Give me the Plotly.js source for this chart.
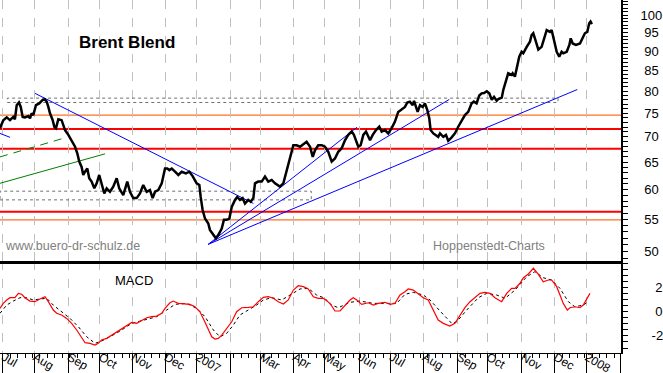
<!DOCTYPE html>
<html><head><meta charset="utf-8">
<script src="https://cdn.plot.ly/plotly-3.0.1.min.js"></script>
<style>html,body{margin:0;padding:0;background:#fff;} #chart{width:663px;height:373px;}</style>
</head><body><div id="chart"></div>
<script>
// x axis unit: trading day index counted from Mon 3 Jul 2006 (weekends excluded)
const monthStartDay = [0,21,44,65,87,109,130,153,173,195,216,239,260,282,305,325,348,370,391,414];
const monthLabels = ['Jul','Aug','Sep','Oct','Nov','Dec','2007','','Mar','Apr','May','Jun','Jul','Aug','Sep','Oct','Nov','Dec','2008',''];

const priceDay = [-1.8,0.4,2.7,4.9,7.1,8.2,9.4,10.9,12.1,13.4,14.9,17.2,18.3,19.4,20.5,22.3,24.5,26.8,28.3,29.5,30.6,31.7,33.5,34.6,35.7,37.3,39.5,40.6,41.8,44.0,46.2,48.5,50.0,51.3,52.9,54.0,55.2,56.7,58.0,59.6,61.4,63.0,64.7,66.3,68.1,69.7,71.9,74.1,76.4,78.1,80.8,83.5,85.3,87.5,89.8,92.0,94.2,96.5,98.7,100.5,102.1,104.3,106.6,108.8,110.3,111.7,113.3,115.5,117.7,120.0,122.8,125.1,127.3,130.0,131.8,132.7,134.0,135.6,137.8,138.9,141.2,142.9,144.5,146.8,148.3,150.1,151.9,153.5,155.7,157.2,159.0,160.8,162.4,164.6,166.2,168.0,169.1,171.3,173.6,175.8,178.0,180.3,182.5,185.8,188.1,190.3,192.5,194.8,197.0,199.3,201.5,203.7,206.0,207.8,209.3,211.5,213.8,216.0,218.2,219.4,220.5,222.7,224.9,227.2,229.4,231.6,233.9,235.4,236.8,238.3,239.9,241.7,243.5,245.0,246.2,248.0,250.2,252.4,254.0,256.2,258.4,260.7,262.9,265.1,267.4,269.6,271.2,272.9,274.8,275.7,277.0,278.1,279.7,281.5,283.0,284.6,285.9,286.8,288.6,290.4,291.9,293.1,295.3,297.1,298.6,300.9,303.1,305.3,307.6,309.8,312.0,314.3,315.8,317.6,319.4,321.0,322.6,324.4,326.1,327.8,329.3,331.1,332.2,334.5,335.5,337.3,338.8,341.1,341.8,343.3,344.9,346.2,347.8,348.9,351.2,353.4,354.5,355.6,356.7,359.0,361.2,363.4,364.6,366.8,367.9,369.5,371.3,373.0,374.6,375.7,378.0,379.8,380.7,382.0,384.2,386.9,388.7,390.2,391.8,393.1,394.0,394.9];
const priceValue = [71.8,73.5,74.1,73.5,74.2,73.7,76.8,77.4,76.4,74.2,74.1,74.4,73.9,75.0,74.6,76.8,77.2,78.0,78.1,77.6,76.4,75.0,73.5,72.1,71.8,73.7,73.5,72.5,71.4,70.4,69.3,68.0,66.7,65.1,64.1,62.6,63.2,63.8,62.0,61.4,60.2,61.1,62.6,61.1,59.3,60.2,59.6,60.5,62.0,60.2,59.0,61.4,59.6,58.5,58.5,59.3,60.8,59.6,59.9,58.5,59.6,59.9,61.1,63.8,63.8,63.5,63.8,63.2,62.6,63.2,62.9,63.2,62.4,61.1,60.8,58.7,56.5,55.1,54.3,53.3,52.5,52.0,52.5,53.5,54.9,54.9,55.1,57.0,58.2,58.7,58.2,58.5,57.6,58.2,57.9,58.5,61.1,61.4,61.4,62.3,61.4,61.7,61.1,60.5,61.1,63.5,66.0,68.3,68.3,68.0,68.5,69.0,68.0,66.0,67.3,68.3,68.3,68.0,67.0,66.0,65.1,65.7,67.0,67.7,69.3,70.4,71.1,70.4,69.0,68.0,68.3,70.4,71.1,70.0,69.3,70.4,71.4,72.1,71.1,71.4,70.7,71.8,73.2,75.3,75.9,76.4,77.4,77.6,76.8,77.8,76.4,75.3,76.8,76.4,77.2,75.7,73.9,71.4,70.7,70.4,70.0,70.7,70.0,70.4,69.2,69.9,70.7,72.1,73.5,74.6,75.3,77.2,77.6,77.2,79.0,79.5,79.6,80.0,79.5,78.0,78.7,77.8,78.2,78.5,80.3,82.7,84.3,83.9,84.3,83.5,86.0,88.5,89.8,89.4,91.1,92.5,94.3,94.8,93.4,90.4,91.1,94.3,95.7,95.2,95.7,92.9,89.8,88.5,89.8,89.4,89.8,91.6,93.4,92.0,91.6,92.0,93.8,94.8,95.2,97.6,98.1,97.4];

const macdDay = [-1.8,0.4,2.7,4.9,8.2,10.5,12.7,14.9,18.3,21.6,25.0,28.4,30.6,33.9,36.2,39.5,42.9,46.2,49.6,52.9,55.2,58.5,61.9,64.1,66.3,69.7,73.1,76.4,79.8,83.1,86.5,89.8,93.2,96.5,99.9,103.2,106.6,108.8,112.1,114.3,117.7,121.0,125.5,128.9,132.2,134.9,137.8,140.1,142.3,144.5,146.8,150.1,153.5,156.8,160.2,164.6,168.0,171.3,174.7,178.0,181.4,184.7,188.1,191.4,194.8,198.1,201.5,204.8,208.2,211.5,214.9,219.4,222.7,226.1,229.4,232.8,235.0,237.3,240.6,245.0,248.4,251.7,256.2,259.6,262.9,266.3,269.6,271.8,275.2,278.5,281.9,285.2,288.6,291.9,295.3,299.7,303.1,306.4,309.8,313.2,316.5,319.9,323.2,326.6,329.9,332.2,334.4,337.8,341.1,343.4,346.7,349.0,352.3,355.7,359.0,362.3,365.7,367.9,371.3,373.5,375.7,378.4,380.2,383.5,386.9,389.1,391.4,393.6];
const macdValue = [0.28,0.69,0.97,1.16,1.16,1.52,1.44,1.16,0.88,0.83,1.05,1.24,0.83,0.14,-0.13,-0.27,-0.55,-0.96,-1.51,-2.20,-2.56,-2.61,-2.75,-2.61,-2.34,-2.20,-1.93,-1.65,-1.37,-1.10,-0.88,-0.96,-0.69,-0.50,-0.41,-0.36,-0.13,0.28,0.74,0.88,0.69,0.64,0.61,0.41,0.00,-0.69,-1.51,-2.07,-2.26,-2.20,-1.93,-1.37,-0.83,0.00,0.33,0.36,0.41,0.83,1.19,1.24,1.11,0.83,0.64,0.97,1.79,2.15,2.07,1.88,1.24,1.11,1.11,0.69,0.06,0.06,0.55,0.97,1.16,0.97,0.61,0.74,0.55,0.69,0.78,0.61,0.69,1.38,1.65,1.88,1.79,1.44,1.16,0.97,0.14,-0.69,-0.96,-1.18,-0.96,-0.27,0.33,0.83,1.16,1.52,1.60,1.52,1.16,1.02,0.83,1.52,1.93,1.93,2.35,2.81,3.12,3.59,3.09,2.48,2.62,2.62,2.07,1.38,0.69,0.14,0.33,0.41,0.33,0.55,1.11,1.52];

const signalDay = [-1.8,2.7,7.1,11.6,16.1,20.5,25.0,29.5,33.9,39.5,45.1,50.7,56.3,61.9,66.3,71.9,78.6,86.5,94.2,103.2,109.9,115.5,123.3,130.0,135.6,141.2,145.6,150.1,154.6,159.0,164.6,170.2,174.7,180.3,187.0,192.5,199.3,204.8,210.4,216.0,219.4,224.9,232.8,239.5,248.4,257.4,264.1,269.6,275.2,281.9,286.4,293.1,300.9,304.3,311.0,318.8,324.4,331.1,336.7,343.4,351.2,356.7,362.3,367.9,373.5,379.1,383.5,389.1,392.4];
const signalValue = [-0.13,0.55,0.88,1.16,1.16,0.97,1.05,1.11,0.55,0.00,-0.55,-1.24,-2.07,-2.61,-2.42,-2.07,-1.60,-0.96,-0.69,-0.41,0.14,0.61,0.69,0.28,-0.41,-1.51,-2.07,-1.79,-1.10,-0.27,0.14,0.55,0.97,1.16,0.97,1.38,1.88,1.93,1.38,1.11,0.61,0.33,0.78,0.88,0.69,0.69,0.69,1.44,1.60,1.38,0.97,0.06,-0.96,-0.83,0.14,1.16,1.52,1.38,1.11,1.79,2.89,3.31,2.81,2.62,1.93,0.83,0.41,0.55,0.83];

// trend lines (start, end)
const blueLineDay = [[21.7,168.0],[137.8,237.5],[137.8,299.3],[137.8,385.1],[-1.8,4.9]];
const blueLineValue = [[79.5,57.6],[51.1,72.0],[51.1,78.1],[51.1,80.4],[70.7,69.9]];
const greenLineDay = [[-1.8,42.9],[-1.8,68.6]];
const greenLineValue = [[66.0,69.9],[61.1,66.6]];

// horizontal levels
const levelValue = [74.6, 71.6, 67.6, 56.2, 54.9];
// consolidation boxes
const boxStartDay = [3.1, -1.8];
const boxEndDay = [372.2, 206.8];
const boxLow = [77.4, 58.2];
const boxHigh = [78.4, 59.7];

const priceTicks = [50,55,60,65,70,75,80,85,90,95,100];
const macdTicks = [-2,0,2];

const FONT = 'Liberation Sans, Arial, sans-serif';
const traces = [];
blueLineDay.forEach((d,i)=>traces.push({x:d,y:blueLineValue[i],xaxis:'x2',yaxis:'y',mode:'lines',line:{color:'#0000ff',width:1},hoverinfo:'skip'}));
greenLineDay.forEach((d,i)=>traces.push({x:d,y:greenLineValue[i],xaxis:'x2',yaxis:'y',mode:'lines',line:{color:'#008000',width:1,dash:i===0?'8px,6px':'solid'},hoverinfo:'skip'}));
traces.push({x:priceDay,y:priceValue,xaxis:'x2',yaxis:'y',mode:'lines',line:{color:'#000',width:2.5},hoverinfo:'skip'});
traces.push({x:signalDay,y:signalValue,xaxis:'x',yaxis:'y2',mode:'lines',line:{color:'#000',width:1,dash:'3px,3px'},hoverinfo:'skip'});
traces.push({x:macdDay,y:macdValue,xaxis:'x',yaxis:'y2',mode:'lines',line:{color:'#ff0000',width:1.2},hoverinfo:'skip'});

const shapes = [];
const levelColor = ['#ff7020','#ff0000','#ff0000','#ff0000','#ff7020'];
const levelWidth = [1.3,2,2,2,1.3];
levelValue.forEach((v,i)=>shapes.push({type:'line',xref:'paper',x0:0,x1:1,yref:'y',y0:v,y1:v,layer:'between',line:{color:levelColor[i],width:levelWidth[i]}}));
boxStartDay.forEach((d,i)=>shapes.push({type:'rect',xref:'x2',yref:'y',x0:d,x1:boxEndDay[i],y0:boxLow[i],y1:boxHigh[i],layer:'between',line:{color:'#707070',width:1,dash:'dot'}}));

const minorPrice = [];
for (let v = 49; v <= 104; v += 1) minorPrice.push(v);

const xRange = [-1.8, 414.4];
const layout = {
  width:663, height:373,
  margin:{l:0,r:42,t:0,b:20},
  paper_bgcolor:'#fff', plot_bgcolor:'#fff',
  showlegend:false, hovermode:false,
  font:{family:FONT,color:'#000',size:13},
  xaxis:{domain:[0,1],anchor:'y2',range:xRange,tickmode:'array',tickvals:monthStartDay,ticktext:monthLabels,
    ticks:'outside',ticklen:20,tickwidth:1,tickcolor:'#000',ticklabelposition:'outside right',ticklabelstandoff:-8,
    ticklabeloverflow:'allow',
    tickfont:{size:12,color:'#000',family:FONT},showline:true,linecolor:'#000',linewidth:1,
    showgrid:true,gridcolor:'#c0c0c0',griddash:'dash',gridwidth:1,zeroline:false,
    minor:{tickmode:'linear',tick0:0,dtick:5,ticks:'outside',ticklen:4,tickcolor:'#000',tickwidth:1,showgrid:false}},
  xaxis2:{domain:[0,1],anchor:'y',matches:'x',range:xRange,tickmode:'array',tickvals:monthStartDay,showticklabels:false,ticks:'',
    showline:true,linecolor:'#000',linewidth:2.5,showgrid:true,gridcolor:'#c0c0c0',griddash:'dash',gridwidth:1,zeroline:false},
  yaxis:{domain:[0.2606,1],anchor:'x2',side:'right',type:'log',range:[Math.log10(48.66),Math.log10(104.5)],
    tickmode:'array',tickvals:priceTicks,ticktext:priceTicks.map(v=>v>=100?String(v):'\u2008'+v),
    ticks:'outside',ticklen:5,tickcolor:'#000',showline:true,linecolor:'#000',linewidth:2,showgrid:false,zeroline:false,
    ticklabelstandoff:10,ticklabeloverflow:'allow',tickfont:{size:13,color:'#000',family:FONT},
    minor:{tickmode:'array',tickvals:minorPrice,ticks:'outside',ticklen:5,tickcolor:'#000',showgrid:false}},
  yaxis2:{domain:[0,0.2606],anchor:'x',side:'right',range:[-3.41,4.19],
    tickmode:'array',tickvals:macdTicks,ticktext:macdTicks.map(v=>v<0?'-'+Math.abs(v):'\u2008'+v),
    ticks:'outside',ticklen:5,tickcolor:'#000',showline:true,linecolor:'#000',linewidth:2,showgrid:false,zeroline:false,
    ticklabelstandoff:21,ticklabeloverflow:'allow',tickfont:{size:13,color:'#000',family:FONT},
    minor:{tickmode:'linear',tick0:0,dtick:0.5,ticks:'outside',ticklen:5,tickcolor:'#000',showgrid:false}},
  shapes:shapes,
  annotations:[
    {text:'<b>Brent Blend</b>',xref:'paper',yref:'paper',x:0.2045,y:0.8782,xanchor:'center',yanchor:'middle',showarrow:false,font:{size:17,color:'#000',family:FONT}},
    {text:'MACD',xref:'paper',yref:'paper',x:0.2158,y:0.204,xanchor:'center',yanchor:'middle',showarrow:false,font:{size:13,color:'#000',family:FONT}},
    {text:'www.buero-dr-schulz.de',xref:'paper',yref:'paper',x:0.0043,y:0.3031,xanchor:'left',yanchor:'middle',showarrow:false,font:{size:12.5,color:'#808080',family:FONT}},
    {text:'Hoppenstedt-Charts',xref:'paper',yref:'paper',x:0.7874,y:0.3045,xanchor:'center',yanchor:'middle',showarrow:false,font:{size:12.5,color:'#808080',family:FONT}}
  ]
};
Plotly.newPlot('chart', traces, layout, {staticPlot:true, displayModeBar:false});
</script></body></html>
